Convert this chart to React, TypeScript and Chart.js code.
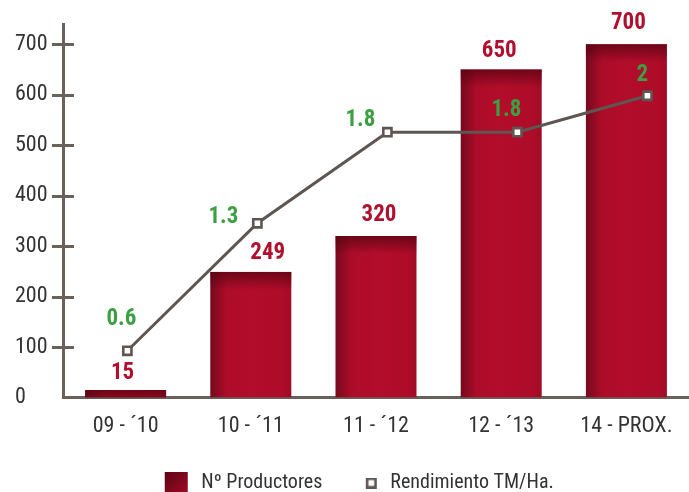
import React, { useEffect, useRef } from "react";
import { Chart, registerables } from "chart.js";

Chart.register(...registerables);

const categories = ["09 - ´10", "10 - ´11", "11 - ´12", "12 - ´13", "14 - PROX."];
const productores = [15, 249, 320, 650, 700];
const rendimiento = [0.6, 1.3, 1.8, 1.8, 2];
const yTickValues = [0, 100, 200, 300, 400, 500, 600, 700];
const seriesNames = ["Nº Productores", "Rendimiento TM/Ha."];

const FONT = "'Roboto Condensed', 'DejaVu Sans Condensed', sans-serif";
const AXIS = "#6a615b";
const BAR = "#b00c2a";
const GREEN = "#3c9f41";
const RED_TXT = "#b0102e";
const LINE = "#5f5651";
const TEXT = "#333333";

// legend swatch images (36px wide, symbol drawn toward the right side)
function legendBar(): HTMLCanvasElement {
  const c = document.createElement("canvas");
  c.width = 36;
  c.height = 23;
  const g = c.getContext("2d")!;
  const gr = g.createLinearGradient(12, 0, 35, 23);
  gr.addColorStop(0, "#5c0514");
  gr.addColorStop(1, "#a00b27");
  g.fillStyle = gr;
  g.fillRect(12, 0, 23, 23);
  return c;
}

function legendMarker(): HTMLCanvasElement {
  const c = document.createElement("canvas");
  c.width = 36;
  c.height = 11;
  const g = c.getContext("2d")!;
  g.fillStyle = "#ffffff";
  g.fillRect(24, 0, 11, 11);
  g.strokeStyle = LINE;
  g.lineWidth = 2.6;
  g.strokeRect(25.3, 1.3, 8.4, 8.4);
  return c;
}

// label offsets relative to marks (style, not data)
const barLabelShift = [[-3, -17], [17, -19], [3, -21], [-2, -18], [2, -21]];
const lineLabelShift = [[-6, -32], [-34, -6], [-27, -12], [-11, -22], [-5, -21]];

const decor = {
  id: "decor",
  afterDatasetDraw(chart: any, args: any) {
    if (args.index !== 0) return;
    const ctx = chart.ctx;
    ctx.save();
    args.meta.data.forEach((el: any) => {
      const { x, y, base, width } = el.getProps(["x", "y", "base", "width"], true);
      const h = base - y;
      const sh = Math.min(18, h);
      const g = ctx.createLinearGradient(0, y, 0, y + 18);
      g.addColorStop(0, "rgba(80,3,15,0.7)");
      g.addColorStop(1, "rgba(80,3,15,0)");
      ctx.fillStyle = g;
      ctx.fillRect(x - width / 2, y, width, sh);
    });
    ctx.restore();
  },
  afterDraw(chart: any) {
    const ctx = chart.ctx;
    ctx.save();
    const ys = chart.scales.y;
    const left = chart.chartArea.left;
    ctx.strokeStyle = AXIS;
    ctx.lineWidth = 3;
    ys.ticks.forEach((t: any) => {
      if (t.value === 0) return;
      const py = Math.round(ys.getPixelForValue(t.value)) + 0.5;
      ctx.beginPath();
      ctx.moveTo(left - 11, py);
      ctx.lineTo(left + 11, py);
      ctx.stroke();
    });
    ctx.textAlign = "center";
    ctx.textBaseline = "middle";
    ctx.font = `bold 23px ${FONT}`;
    const bm = chart.getDatasetMeta(0);
    bm.data.forEach((el: any, i: number) => {
      const s = barLabelShift[i];
      ctx.fillStyle = RED_TXT;
      ctx.fillText(String(productores[i]), el.x + s[0], el.y + s[1]);
    });
    const lm = chart.getDatasetMeta(1);
    lm.data.forEach((el: any, i: number) => {
      const s = lineLabelShift[i];
      ctx.fillStyle = GREEN;
      ctx.fillText(String(rendimiento[i]), el.x + s[0], el.y + s[1]);
    });
    ctx.restore();
  },
};

export default function App() {
  const ref = useRef<HTMLCanvasElement | null>(null);
  useEffect(() => {
    if (!ref.current) return;
    Chart.defaults.font.family = FONT;
    const barImg = legendBar();
    const markImg = legendMarker();
    const chart = new Chart(ref.current, {
      type: "bar",
      data: {
        labels: categories,
        datasets: [
          {
            type: "bar",
            label: seriesNames[0],
            data: productores,
            order: 1,
            grouped: false,
            categoryPercentage: 1,
            barPercentage: 0.647,
            backgroundColor: (c: any) => {
              const ch = c.chart;
              const xs = ch.scales && ch.scales.x;
              if (!xs || c.dataIndex === undefined) return BAR;
              const cx = xs.getPixelForValue(c.dataIndex);
              const w = 81;
              const g = ch.ctx.createLinearGradient(cx - w / 2, 0, cx + w / 2, 0);
              g.addColorStop(0, "#760a1d");
              g.addColorStop(0.2, "#ad0c29");
              g.addColorStop(0.5, "#b20d2b");
              g.addColorStop(0.88, "#ae0c29");
              g.addColorStop(1, "#a00b26");
              return g;
            },
            borderWidth: 0,
          } as any,
          {
            type: "line",
            label: seriesNames[1],
            data: rendimiento.map((v, i) => ({ x: i, y: v })),
            xAxisID: "x2",
            yAxisID: "y2",
            order: 0,
            borderColor: LINE,
            borderWidth: 3,
            pointStyle: "rect",
            pointRadius: 5.8,
            pointBorderWidth: 2.6,
            pointBackgroundColor: "#ffffff",
            pointBorderColor: LINE,
            tension: 0,
          } as any,
        ],
      },
      options: {
        animation: false,
        responsive: true,
        maintainAspectRatio: false,
        layout: { autoPadding: false, padding: { left: 15, top: 24, right: 0, bottom: 0 } },
        plugins: {
          tooltip: { enabled: false },
          legend: {
            display: true,
            position: "bottom",
            align: "center",
            labels: {
              usePointStyle: true,
              pointStyleWidth: 41,
              boxHeight: 20,
              padding: 17,
              color: TEXT,
              font: { size: 20, family: FONT },
              generateLabels: () => [
                { text: seriesNames[0], pointStyle: barImg, fillStyle: BAR, strokeStyle: BAR, lineWidth: 0, hidden: false, datasetIndex: 0, fontColor: TEXT },
                { text: seriesNames[1], pointStyle: markImg, fillStyle: "#fff", strokeStyle: LINE, lineWidth: 0, hidden: false, datasetIndex: 1, fontColor: TEXT },
              ] as any,
            },
          },
        },
        scales: {
          x: {
            type: "category",
            offset: true,
            grid: { display: false, drawTicks: false },
            border: { display: true, color: AXIS, width: 3 },
            ticks: { color: TEXT, font: { size: 22, family: FONT }, padding: 16, maxRotation: 0, autoSkip: false },
          },
          x2: {
            type: "linear",
            display: false,
            offset: false,
            min: -0.495,
            max: 4.32,
          },
          y: {
            type: "linear",
            min: 0,
            max: 740,
            grid: { display: false, drawTicks: false },
            border: { display: true, color: AXIS, width: 3 },
            afterBuildTicks: (s: any) => {
              s.ticks = yTickValues.map((v) => ({ value: v }));
            },
            afterFit: (s: any) => {
              s.width = 48;
            },
            ticks: { color: TEXT, font: { size: 22, family: FONT }, crossAlign: "far", padding: 0 },
          },
          y2: {
            type: "linear",
            display: false,
            offset: false,
            min: 0.343,
            max: 2.394,
          },
        },
      } as any,
      plugins: [decor],
    });
    return () => chart.destroy();
  }, []);
  return (
    <div style={{ position: "fixed", left: 0, top: 0, width: 689, height: 503, background: "#fff" }}>
      <canvas ref={ref} />
    </div>
  );
}
